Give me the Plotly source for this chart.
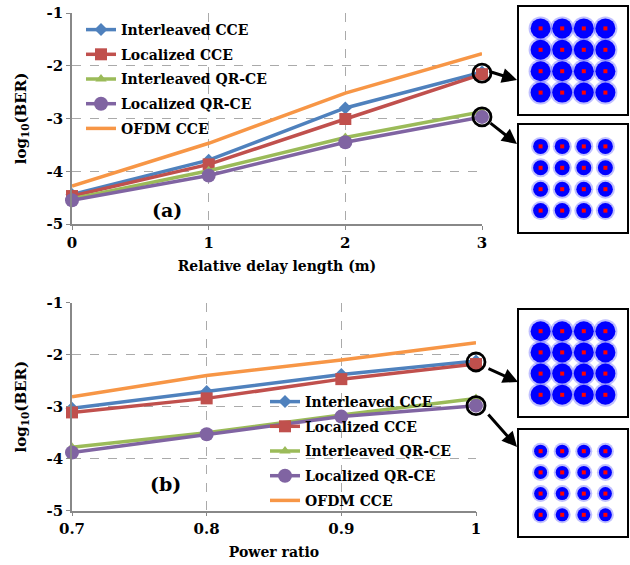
import plotly.graph_objects as go

# ---------------- data ----------------
delay_x = [0, 1, 2, 3]
a_inter_cce = [-4.44, -3.79, -2.80, -2.12]
a_local_cce = [-4.47, -3.87, -3.01, -2.16]
a_inter_qr = [-4.52, -3.99, -3.36, -2.87]
a_local_qr = [-4.55, -4.08, -3.45, -2.97]
a_ofdm = [-4.28, -3.47, -2.52, -1.77]

power_x = [0.7, 0.8, 0.9, 1.0]
b_inter_cce = [-3.03, -2.71, -2.38, -2.12]
b_local_cce = [-3.11, -2.84, -2.47, -2.18]
b_inter_qr = [-3.78, -3.50, -3.16, -2.84]
b_local_qr = [-3.88, -3.53, -3.19, -2.98]
b_ofdm = [-2.81, -2.40, -2.10, -1.77]

y_ticks = [-1, -2, -3, -4, -5]
y_tick_labels = ["-1", "-2", "-3", "-4", "-5"]
delay_tick_labels = ["0", "1", "2", "3"]
power_tick_labels = ["0.7", "0.8", "0.9", "1"]

names = ["Interleaved CCE", "Localized CCE", "Interleaved QR-CE", "Localized QR-CE", "OFDM CCE"]
colors = ["#4F81BD", "#C0504D", "#9BBB59", "#8064A2", "#F79646"]
symbols = ["diamond", "square", "triangle-up", "circle", None]
msizes = [10, 12, 10, 14, 0]

# 16-QAM ideal constellation levels
qam_levels = [-3, -1, 1, 3]
# apparent cluster spread per inset (blob size in px)
inset_blob = [20, 15, 20, 13]

FONT = "DejaVu Serif"
W, H = 630, 565

fig = go.Figure()

def px_x(p):
    return p / W

def px_y(p):
    return 1 - p / H

# main axes domains
top_dom_x = [px_x(72), px_x(482)]
top_dom_y = [px_y(224), px_y(13)]
bot_dom_x = [px_x(72), px_x(476)]
bot_dom_y = [px_y(510.7), px_y(302.7)]

series_a = [a_inter_cce, a_local_cce, a_inter_qr, a_local_qr, a_ofdm]
series_b = [b_inter_cce, b_local_cce, b_inter_qr, b_local_qr, b_ofdm]

for (xs, series, xa, ya, leg) in [(delay_x, series_a, "x", "y", "legend"),
                                   (power_x, series_b, "x2", "y2", "legend2")]:
    for i, ys in enumerate(series):
        mode = "lines" if symbols[i] is None else "lines+markers"
        kw = {}
        if symbols[i] is not None:
            kw["marker"] = dict(symbol=symbols[i], size=msizes[i], color=colors[i])
        fig.add_trace(go.Scatter(
            x=xs, y=ys, mode=mode, name=names[i],
            line=dict(color=colors[i], width=3.5), cliponaxis=False,
            xaxis=xa, yaxis=ya, legend=leg, legendgroup=leg + str(i),
            **kw))
    # highlight circles at last point
    fig.add_trace(go.Scatter(
        x=[xs[-1], xs[-1]], y=[series[0][-1] - 0.02, series[3][-1]],
        mode="markers", showlegend=False, hoverinfo="skip", cliponaxis=False,
        marker=dict(symbol="circle-open", size=18, color="black", line=dict(width=2.8)),
        xaxis=xa, yaxis=ya))

# constellation insets
inset_doms_y = [[px_y(114), px_y(7)], [px_y(232), px_y(125)],
                [px_y(416), px_y(310)], [px_y(536), px_y(430)]]
inset_dom_x = [px_x(519), px_x(627)]
qx = [i for i in qam_levels for q in qam_levels]
qy = [q for i in qam_levels for q in qam_levels]
for k in range(4):
    n = k + 3
    xa, ya = "x%d" % n, "y%d" % n
    s = inset_blob[k]
    fig.add_trace(go.Scatter(x=qx, y=qy, mode="markers", showlegend=False, hoverinfo="skip",
                             marker=dict(size=s + 4, color="#3030FF", opacity=0.3, line=dict(width=0)),
                             xaxis=xa, yaxis=ya))
    fig.add_trace(go.Scatter(x=qx, y=qy, mode="markers", showlegend=False, hoverinfo="skip",
                             marker=dict(size=s, color="#0000FF", line=dict(width=0)),
                             xaxis=xa, yaxis=ya))
    fig.add_trace(go.Scatter(x=qx, y=qy, mode="markers", showlegend=False, hoverinfo="skip",
                             marker=dict(symbol="square", size=4, color="#FF0000", line=dict(width=0)),
                             xaxis=xa, yaxis=ya))
    fig.layout["xaxis%d" % n] = dict(domain=inset_dom_x, range=[-5, 5], showgrid=False, zeroline=False,
                                     showticklabels=False, ticks="", showline=True, mirror=True,
                                     linecolor="black", linewidth=2, anchor=ya, automargin=False)
    fig.layout["yaxis%d" % n] = dict(domain=inset_doms_y[k], range=[-5, 5], showgrid=False, zeroline=False,
                                     showticklabels=False, ticks="", showline=True, mirror=True,
                                     linecolor="black", linewidth=2, anchor=xa, automargin=False)

tickfont = dict(family=FONT, size=15, color="black", weight="bold")
titlefont = dict(family=FONT, size=14, color="black", weight="bold")
ytitlefont = dict(family=FONT, size=15, color="black", weight="bold")
common_x = dict(showgrid=True, gridcolor="#AAAAAA", griddash="dash", gridwidth=1,
                showline=True, linecolor="#888888", linewidth=1.5, zeroline=False,
                ticks="outside", ticklen=4, tickcolor="#888888", tickfont=tickfont,
                automargin=False)
common_y = dict(common_x)

legfont = dict(family=FONT, size=14, color="black", weight="bold")
fig.update_layout(
    width=W, height=H, margin=dict(l=0, r=0, t=0, b=0),
    template="none", paper_bgcolor="white", plot_bgcolor="white",
    xaxis=dict(common_x, domain=top_dom_x, range=[0, 3], tickvals=delay_x,
               ticktext=delay_tick_labels, anchor="y",
               title=dict(text="Relative delay length (m)", font=titlefont, standoff=10)),
    yaxis=dict(common_y, domain=top_dom_y, range=[-5, -1], tickvals=y_ticks,
               ticktext=y_tick_labels, anchor="x",
               title=dict(text="log<sub>10</sub>(BER)", font=ytitlefont, standoff=16)),
    xaxis2=dict(common_x, domain=bot_dom_x, range=[0.7, 1.0], tickvals=power_x,
                ticktext=power_tick_labels, anchor="y2",
                title=dict(text="Power ratio", font=titlefont, standoff=10)),
    yaxis2=dict(common_y, domain=bot_dom_y, range=[-5, -1], tickvals=y_ticks,
                ticktext=y_tick_labels, anchor="x2",
                title=dict(text="log<sub>10</sub>(BER)", font=ytitlefont, standoff=16)),
    legend=dict(x=px_x(81), y=px_y(14), xanchor="left", yanchor="top",
                bgcolor="rgba(0,0,0,0)", font=legfont,
                tracegroupgap=3.5, traceorder="grouped"),
    legend2=dict(x=px_x(265), y=px_y(386), xanchor="left", yanchor="top",
                 bgcolor="rgba(0,0,0,0)", font=legfont,
                 tracegroupgap=3.5, traceorder="grouped"),
    showlegend=True,
)

annos = [
    dict(text="(a)", x=px_x(150), y=px_y(210), xref="paper", yref="paper", showarrow=False,
         font=dict(family=FONT, size=19, color="black", weight="bold")),
    dict(text="(b)", x=px_x(148), y=px_y(497), xref="paper", yref="paper", showarrow=False,
         font=dict(family=FONT, size=19, color="black", weight="bold")),
]
arrows = [((517, 80), (488, 71)), ((517, 144), (489, 122)),
          ((518, 382), (487, 368)), ((517, 447), (487, 413))]
for (tip, tail) in arrows:
    annos.append(dict(x=px_x(tip[0]), y=px_y(tip[1]), xref="paper", yref="paper",
                      ax=tail[0] - tip[0], ay=tail[1] - tip[1], axref="pixel", ayref="pixel",
                      showarrow=True, arrowhead=2, arrowsize=1, arrowwidth=3, arrowcolor="black",
                      text=""))
fig.update_layout(annotations=annos)

fig.write_html("out.html", config={"displayModeBar": False},
               post_script="document.body.style.margin='0';document.body.style.padding='0';")
